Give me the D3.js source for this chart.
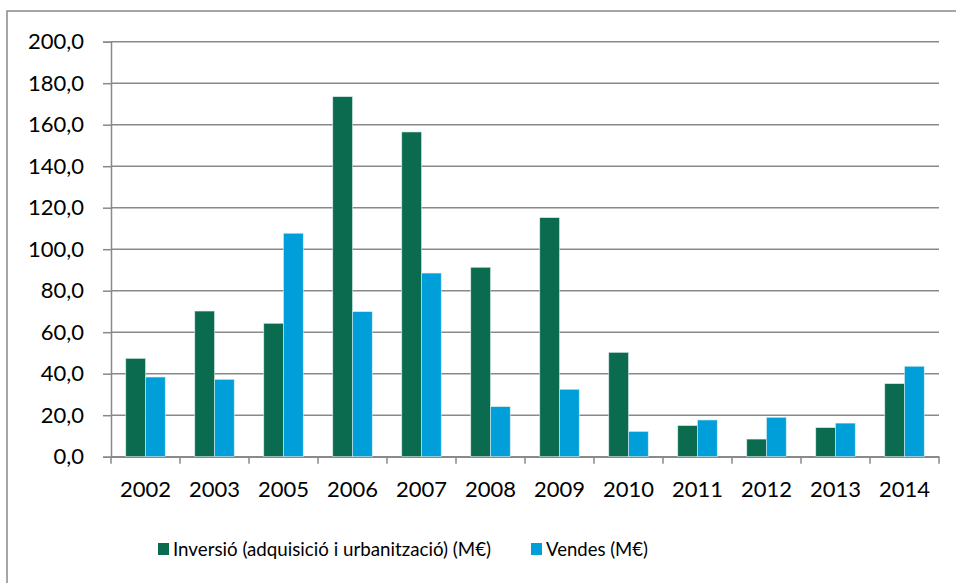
<!DOCTYPE html>
<html>
<head>
<meta charset="utf-8">
<script src="https://cdn.jsdelivr.net/npm/d3@7"></script>
<style>
html,body{margin:0;padding:0;background:#fff;}
svg{display:block;font-family:Lato,"Open Sans",sans-serif;}
</style>
</head>
<body>
<svg id="chart" width="956" height="583"></svg>
<script>
const years = ["2002","2003","2005","2006","2007","2008","2009","2010","2011","2012","2013","2014"];
const inversio = [47.4,70.2,64.3,173.5,156.5,91.3,115.2,50.3,15.0,8.5,14.0,35.2];
const vendes = [38.4,37.3,107.7,69.9,88.5,24.1,32.5,12.2,17.7,19.0,16.2,43.6];
const seriesNames = ["Inversió (adquisició i urbanització) (M€)","Vendes (M€)"];
const yTicks = [0,20,40,60,80,100,120,140,160,180,200];

const colors = ["#0B6B4E","#009FDA"];
const gridColor = "#898989";

const svg = d3.select("#chart");
const plotL = 111, plotR = 939, plotT = 41.7, plotB = 456.7;

// outer frame
svg.append("rect").attr("x",7).attr("y",11).attr("width",1000).attr("height",700)
  .attr("fill","none").attr("stroke",gridColor).attr("stroke-width",1.5);

const x0 = d3.scaleBand().domain(years).range([plotL,plotR]).paddingInner(0).paddingOuter(0);
const gapFrac = 1.5; // Excel gap width 150%
const barW = x0.bandwidth()/(2+gapFrac);
const y = d3.scaleLinear().domain([0,200]).range([plotB,plotT]);

const locale = d3.formatLocale({decimal:",",thousands:".",grouping:[3],currency:["","€"]});
const fmt = locale.format(".1f");

// gridlines
svg.append("g").selectAll("line").data(yTicks).join("line")
  .attr("x1",plotL).attr("x2",plotR)
  .attr("y1",d=>y(d)).attr("y2",d=>y(d))
  .attr("stroke",gridColor).attr("stroke-width",1.5);

// y axis
const yAxis = d3.axisLeft(y).tickValues(yTicks).tickFormat(fmt).tickSize(8).tickPadding(19);
const gy = svg.append("g").attr("transform",`translate(${plotL},0)`).call(yAxis);
gy.select(".domain").attr("stroke",gridColor).attr("stroke-width",1.5);
gy.selectAll(".tick line").attr("stroke",gridColor).attr("stroke-width",1.5);
gy.selectAll(".tick text").attr("font-size",22).attr("fill","#000").attr("font-family","Lato, 'Open Sans', sans-serif");

// x axis
const xAxis = d3.axisBottom(x0).tickSize(0).tickPadding(25);
const gx = svg.append("g").attr("transform",`translate(0,${plotB})`).call(xAxis);
gx.select(".domain").attr("stroke",gridColor).attr("stroke-width",1.5);
gx.selectAll(".tick text").attr("font-size",22).attr("fill","#000").attr("font-family","Lato, 'Open Sans', sans-serif");
// boundary ticks
const bounds = years.map(d=>x0(d)).concat([plotR]);
svg.append("g").selectAll("line").data(bounds).join("line")
  .attr("x1",d=>d).attr("x2",d=>d).attr("y1",plotB).attr("y2",plotB+7)
  .attr("stroke",gridColor).attr("stroke-width",1.5);

// bars
const data = [inversio, vendes];
data.forEach((vals,si)=>{
  svg.append("g").selectAll("rect").data(years).join("rect")
    .attr("x",(d)=>x0(d)+barW*gapFrac/2+si*barW)
    .attr("y",(d,i)=>y(vals[i]))
    .attr("width",barW)
    .attr("height",(d,i)=>plotB-y(vals[i]))
    .attr("fill",colors[si])
    .attr("stroke","#d8ecec").attr("stroke-width",0.6);
});

// legend
const legendItems = [{x:158,name:seriesNames[0],c:colors[0],w:318},{x:531,name:seriesNames[1],c:colors[1],w:102}];
const lg = svg.append("g");
legendItems.forEach(it=>{
  lg.append("rect").attr("x",it.x).attr("y",543).attr("width",11).attr("height",12).attr("fill",it.c);
  lg.append("text").attr("x",it.x+15).attr("y",556).attr("font-size",20).attr("fill","#000")
    .attr("textLength",it.w).attr("lengthAdjust","spacingAndGlyphs").text(it.name);
});
</script>
</body>
</html>
